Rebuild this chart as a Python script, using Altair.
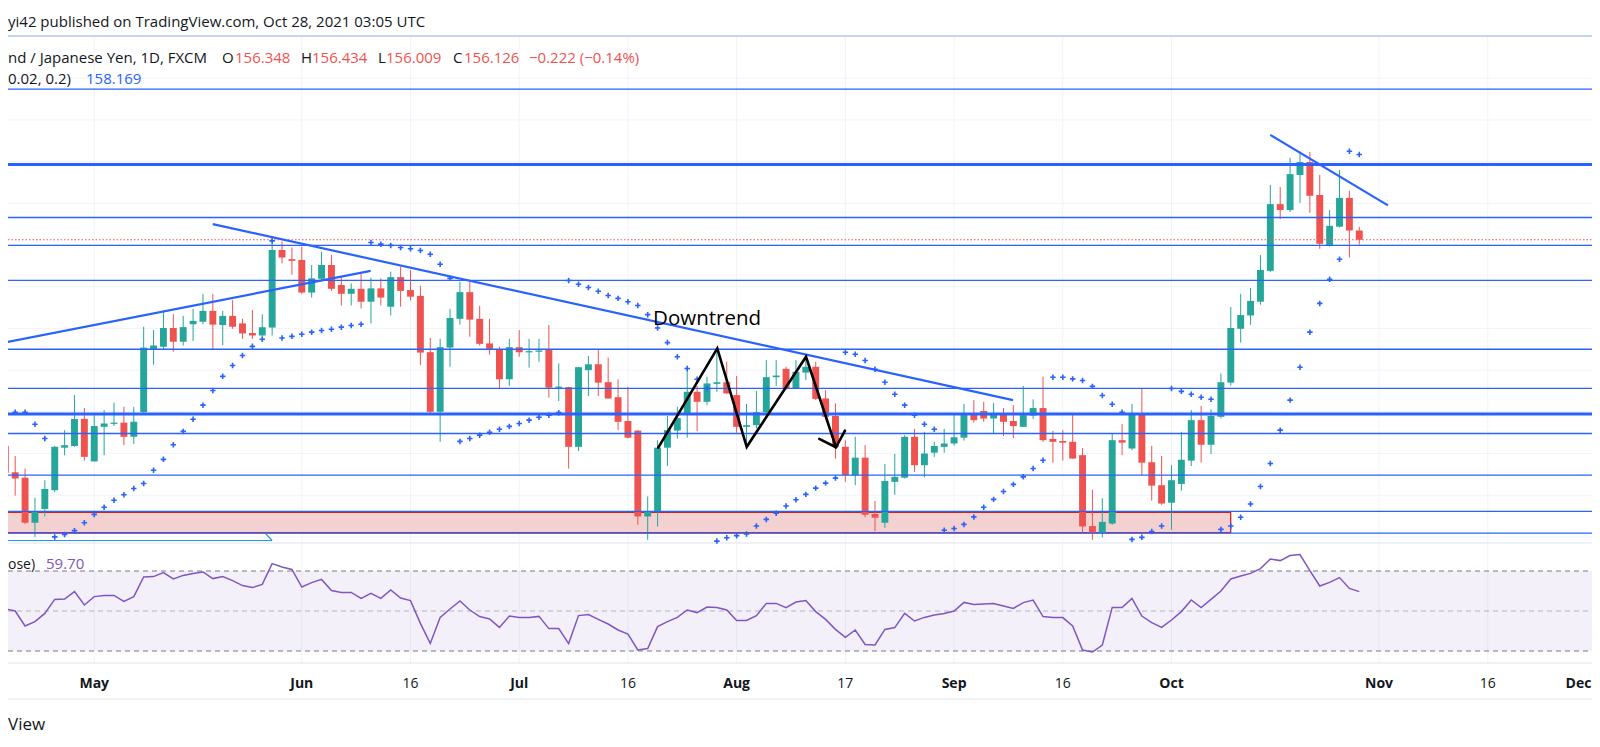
import altair as alt
import numpy as np
import pandas as pd

W, H = 1584, 731
GREEN, RED, BLUE, PURPLE = "#26a69a", "#ef5350", "#2962ff", "#7e57c2"
TEXT, GRID, SEP = "#131722", "#f0f3fa", "#e0e3eb"
FONT = "Open Sans"

# ---------------- data (GBP/JPY daily, FXCM) ----------------
first_bar = "2021-04-20"
opens = [151.18, 150.55, 150.42, 149.34, 149.67, 150.12, 151.14, 151.18, 151.83, 150.81,
         151.64, 151.71, 151.74, 151.40, 151.99, 153.50, 153.56, 154.01, 153.68, 154.10,
         154.16, 154.42, 154.08, 154.30, 154.12, 153.89, 153.83, 154.02, 155.88, 155.66,
         155.64, 154.86, 155.19, 155.52, 155.04, 154.83, 154.95, 154.64, 154.96, 154.52,
         155.23, 154.92, 154.78, 153.43, 152.00, 153.54, 154.23, 154.87, 154.23, 153.64,
         153.49, 152.78, 153.55, 153.43, 153.44, 153.49, 152.58, 152.59, 151.16, 153.00,
         153.14, 152.71, 152.35, 151.78, 151.55, 149.49, 149.61, 151.14, 151.55, 151.96,
         152.48, 152.24, 152.67, 152.71, 152.40, 151.64, 151.68, 151.99, 152.83, 153.03,
         152.56, 152.94, 153.08, 152.32, 151.90, 151.16, 150.48, 150.90, 149.55, 149.34,
         150.32, 150.42, 151.40, 150.72, 151.02, 151.16, 151.24, 151.38, 151.93, 152.02,
         151.84, 151.93, 151.78, 151.64, 151.91, 152.09, 151.35, 151.30, 151.28, 150.96,
         149.26, 149.09, 149.32, 151.32, 151.12, 151.93, 150.79, 150.24, 149.82, 150.27,
         150.83, 151.80, 151.21, 151.88, 152.70, 153.99, 154.31, 154.64, 155.38, 156.98,
         156.84, 157.68, 157.99, 157.20, 155.99, 156.44, 157.13, 156.348]
highs = [151.96, 150.94, 150.64, 149.94, 150.36, 151.18, 151.56, 152.40, 152.09, 151.92,
         152.04, 152.22, 152.12, 152.12, 154.04, 153.96, 154.40, 154.34, 154.30, 154.47,
         154.83, 154.83, 154.42, 154.68, 154.23, 154.44, 154.34, 156.12, 156.08, 155.94,
         155.96, 155.52, 155.84, 155.76, 155.24, 155.08, 155.34, 155.22, 155.20, 155.36,
         155.48, 155.40, 155.02, 153.77, 153.75, 154.47, 155.12, 155.12, 154.54, 154.23,
         153.56, 153.75, 153.96, 153.75, 153.75, 154.08, 153.16, 152.60, 153.07, 153.34,
         153.48, 153.30, 152.78, 152.60, 151.56, 149.97, 151.32, 151.90, 152.12, 153.08,
         152.62, 152.84, 153.44, 153.20, 152.86, 152.19, 152.50, 153.24, 153.24, 153.08,
         153.24, 153.32, 153.20, 152.52, 152.20, 151.32, 151.40, 151.20, 149.86, 150.75,
         150.99, 151.44, 151.59, 151.52, 151.28, 151.59, 151.95, 152.19, 152.28, 152.24,
         152.21, 152.09, 152.16, 152.62, 152.30, 152.84, 151.54, 151.56, 151.93, 151.13,
         150.13, 149.93, 151.47, 151.71, 152.19, 152.55, 151.18, 150.94, 150.72, 151.52,
         152.04, 152.14, 152.06, 152.92, 154.51, 154.83, 154.97, 155.76, 157.44, 157.39,
         158.09, 158.24, 158.23, 157.68, 156.84, 157.80, 157.30, 156.434]
lows = [150.51, 149.99, 149.31, 149.00, 149.49, 150.07, 150.96, 151.16, 150.83, 150.81,
        150.96, 151.66, 151.20, 151.23, 151.96, 153.13, 153.51, 153.44, 153.59, 153.70,
        154.10, 153.51, 153.60, 153.99, 153.75, 153.75, 153.80, 153.83, 155.56, 155.29,
        154.83, 154.74, 155.12, 154.90, 154.55, 154.55, 154.48, 154.12, 154.55, 154.31,
        154.52, 154.67, 153.12, 151.96, 151.28, 153.08, 154.09, 153.80, 153.59, 153.37,
        152.56, 152.62, 153.32, 153.06, 153.20, 152.34, 152.26, 150.64, 151.06, 152.38,
        152.38, 152.31, 151.56, 151.36, 149.29, 148.93, 149.25, 150.70, 151.36, 151.38,
        151.54, 152.16, 152.48, 152.43, 151.50, 151.16, 151.60, 151.96, 152.62, 152.52,
        152.56, 152.76, 152.28, 151.82, 150.88, 150.32, 150.24, 149.47, 149.14, 149.22,
        150.01, 150.40, 150.56, 150.43, 150.92, 151.02, 151.19, 151.31, 151.74, 151.76,
        151.49, 151.42, 151.37, 151.64, 151.83, 151.28, 150.78, 150.83, 150.87, 149.10,
        148.93, 148.99, 149.29, 150.96, 151.08, 150.48, 149.87, 149.77, 149.17, 150.11,
        150.70, 150.78, 150.99, 151.84, 152.63, 153.66, 154.09, 154.57, 155.35, 156.62,
        156.79, 157.01, 156.77, 155.91, 155.96, 156.42, 155.70, 156.009]
closes = [150.54, 150.40, 149.34, 149.61, 150.15, 151.16, 151.20, 151.83, 150.92, 151.66,
          151.72, 151.74, 151.40, 151.76, 153.54, 153.59, 154.01, 153.68, 154.03, 154.18,
          154.42, 154.09, 154.30, 154.04, 153.88, 153.83, 154.03, 155.88, 155.70, 155.62,
          154.86, 155.20, 155.52, 154.95, 154.83, 154.95, 154.64, 154.96, 154.74, 155.23,
          154.90, 154.76, 153.42, 152.00, 153.55, 154.25, 154.87, 154.21, 153.63, 153.51,
          152.78, 153.55, 153.43, 153.45, 153.47, 152.58, 152.60, 151.16, 153.07, 153.14,
          152.70, 152.32, 151.76, 151.38, 149.49, 149.62, 151.14, 151.56, 151.85, 152.48,
          152.24, 152.68, 152.71, 152.44, 151.64, 151.68, 151.99, 152.83, 152.87, 152.56,
          152.96, 153.08, 152.31, 151.88, 151.16, 150.48, 150.90, 149.53, 149.46, 150.34,
          150.44, 151.40, 150.72, 151.00, 151.18, 151.24, 151.39, 151.93, 151.80, 151.84,
          151.93, 151.76, 151.66, 151.92, 152.09, 151.32, 151.28, 151.26, 150.88, 149.25,
          149.09, 149.36, 151.32, 151.26, 151.93, 150.78, 150.23, 149.80, 150.36, 150.85,
          151.80, 151.21, 151.90, 152.71, 154.01, 154.32, 154.66, 155.40, 156.98, 156.84,
          157.70, 157.99, 157.18, 156.03, 156.46, 157.13, 156.348, 156.126]
psar = [152.01, 151.99, 151.99, 151.70, 151.36, 149.00, 149.06, 149.15, 149.34, 149.54,
        149.71, 149.88, 150.01, 150.16, 150.28, 150.60, 150.86, 151.21, 151.53, 151.82,
        152.16, 152.51, 152.85, 153.11, 153.35, 153.57, 153.74, 156.10, 153.77, 153.81,
        153.86, 153.91, 153.95, 153.98, 154.03, 154.07, 154.10, 156.06, 156.02, 155.99,
        155.94, 155.91, 155.87, 155.78, 155.54, 155.20, 151.29, 151.36, 151.44, 151.51,
        151.58, 151.65, 151.72, 151.80, 151.87, 151.92, 151.98, 155.15, 155.06, 154.98,
        154.89, 154.79, 154.72, 154.64, 154.55, 154.33, 154.01, 153.66, 153.32, 153.04,
        152.78, 152.56, 148.90, 148.98, 149.03, 149.07, 149.26, 149.42, 149.57, 149.74,
        149.89, 150.02, 150.17, 150.29, 150.41, 153.43, 153.38, 153.23, 153.02, 152.71,
        152.42, 152.16, 151.92, 151.70, 151.58, 149.16, 149.20, 149.30, 149.48, 149.71,
        149.90, 150.09, 150.26, 150.44, 150.64, 150.84, 152.83, 152.83, 152.79, 152.75,
        152.61, 152.39, 152.18, 151.99, 148.94, 148.99, 149.13, 149.26, 152.56, 152.49,
        152.42, 152.35, 152.30, 149.18, 149.26, 149.47, 149.79, 150.21, 150.76, 151.56,
        152.28, 153.07, 153.91, 154.60, 155.18, 155.66, 158.25, 158.169]
rsi = [51.0, 50.0, 42.5, 44.7, 48.8, 55.8, 56.0, 59.7, 53.0, 57.2,
       57.7, 57.8, 54.8, 57.2, 67.0, 67.2, 69.2, 66.0, 67.8, 68.7,
       69.5, 66.2, 67.2, 65.2, 62.7, 61.7, 63.3, 73.7, 72.0, 70.8,
       62.0, 64.2, 65.8, 60.2, 59.2, 59.3, 56.3, 58.8, 56.3, 60.5,
       56.5, 55.2, 43.8, 33.8, 46.8, 51.0, 55.0, 50.5, 47.2, 46.0,
       41.8, 47.5, 46.7, 46.8, 47.3, 41.2, 41.2, 33.7, 47.7, 48.2,
       45.8, 43.5, 40.5, 38.5, 30.5, 31.2, 42.2, 44.7, 46.8, 50.5,
       49.2, 52.0, 51.8, 50.5, 45.2, 45.3, 47.7, 53.8, 53.8, 51.7,
       54.5, 55.2, 49.7, 45.8, 40.8, 36.8, 40.5, 33.3, 33.0, 40.8,
       41.7, 48.8, 45.0, 46.8, 48.0, 48.7, 50.0, 54.3, 53.3, 53.5,
       53.8, 52.5, 51.3, 54.2, 55.5, 47.2, 46.8, 46.7, 42.5, 30.5,
       29.5, 33.0, 51.8, 51.7, 56.3, 47.5, 44.2, 41.8, 45.5, 49.7,
       55.5, 51.7, 55.8, 60.0, 66.0, 67.5, 68.8, 71.2, 76.0, 75.2,
       77.7, 78.2, 70.2, 62.5, 64.3, 66.7, 61.3, 59.70]

tick_dates = ["2021-05-03", "2021-06-01", "2021-06-16", "2021-07-01", "2021-07-16",
              "2021-08-02", "2021-08-17", "2021-09-01", "2021-09-16", "2021-10-01",
              "2021-11-01", "2021-11-16", "2021-12-01"]
tick_labels = ["May", "Jun", "16", "Jul", "16", "Aug", "17", "Sep", "16", "Oct",
               "Nov", "16", "Dec"]

level_prices = [159.74, 157.93, 156.66, 155.99, 155.15, 153.50, 152.56, 151.95,
                151.48, 150.48, 149.61, 149.09]
level_bold = [157.93, 151.95]
grid_prices = [149, 150, 151, 152, 153, 154, 155, 156, 157, 158, 159, 160]

# drawings, in (bar number, price)
zone_bars = [-9.26, 114.99]
zone_prices = [149.10, 149.59]
trend_ids = ["t1", "t1", "t2", "t2", "t3", "t3"]
trend_bars = [-9.54, 27.97, 11.99, 92.96, 119.0, 130.9]
trend_prices = [153.64, 155.38, 156.50, 152.28, 158.64, 156.95]
zig_ids = ["z", "z", "z", "z", "z", "a1", "a1", "a2", "a2"]
zig_bars = [57.07, 63.04, 66.02, 72.02, 75.05, 73.36, 75.05, 75.05, 75.96]
zig_prices = [151.14, 153.52, 151.16, 153.32, 151.15, 151.35, 151.15, 151.15, 151.55]
range_ids = ["r1", "r1", "r2", "r2"]
range_bars = [-9.6, 17.99, 17.28, 17.99]
range_prices = [148.914, 148.914, 149.09, 148.914]
note_bar, note_price, note_text = 56.54, 154.08, "Downtrend"

# ---------------- frames ----------------
dates = pd.bdate_range(first_bar, periods=len(opens))
origin = len(pd.bdate_range(first_bar, "2021-05-03")) - 1
df = pd.DataFrame({"i": np.arange(len(opens)) - origin, "date": dates.strftime("%Y-%m-%d"),
                   "o": opens, "h": highs, "l": lows, "c": closes, "sar": psar, "rsi": rsi})
df["dir"] = np.where(df["c"] >= df["o"], "up", "down")
top = np.maximum(df["o"], df["c"])
bot = np.minimum(df["o"], df["c"])
mid = (top + bot) / 2
thin = (top - bot) < 0.03
df["top"] = np.where(thin, mid + 0.015, top)
df["bot"] = np.where(thin, mid - 0.015, bot)
df["xl"] = df["i"] - 0.35
df["xr"] = df["i"] + 0.35

ticks = pd.DataFrame({
    "i": [len(pd.bdate_range("2021-05-03", d)) - 1 for d in tick_dates],
    "label": tick_labels})
ticks["month"] = ticks["label"].str.isalpha()
ticks_in = ticks.iloc[:-1]
ticks_edge = ticks.iloc[-1:]

x_scale = alt.Scale(domain=[-8.727, 151.548], range=[0, W], nice=False, zero=False)
y_main = alt.Scale(domain=[148.854, 161.012], range=[535, 28], nice=False, zero=False)
y_rsi = alt.Scale(domain=[24, 84], range=[655, 535], nice=False, zero=False)


def X(f):
    return alt.X(f"{f}:Q", scale=x_scale, axis=None)


def Y(f, s=y_main):
    return alt.Y(f"{f}:Q", scale=s, axis=None)


def label(text, x, y, color=TEXT, size=15, align="left", weight="normal"):
    return alt.Chart(pd.DataFrame({"t": [text]})).mark_text(
        align=align, baseline="alphabetic", color=color, fontSize=size,
        fontWeight=weight, font=FONT).encode(text="t:N", x=alt.value(x), y=alt.value(y))


layers = []
# grid
layers.append(alt.Chart(pd.DataFrame({"p": grid_prices})).mark_rule(color=GRID, strokeWidth=1)
              .encode(y=Y("p"), x=alt.value(0), x2=alt.value(W)))
layers.append(alt.Chart(ticks).mark_rule(color=GRID, strokeWidth=1)
              .encode(x=X("i"), y=alt.value(28), y2=alt.value(655)))
# pane separators
for yy in (535, 655, 691):
    layers.append(alt.Chart(pd.DataFrame({"k": [0]})).mark_rule(color=SEP, strokeWidth=1)
                  .encode(x=alt.value(0), x2=alt.value(W), y=alt.value(yy)))
layers.append(alt.Chart(pd.DataFrame({"k": [0]})).mark_rule(color="#8aacf3", strokeWidth=1.2)
              .encode(x=alt.value(0), x2=alt.value(W), y=alt.value(28)))

# RSI band and levels
layers.append(alt.Chart(pd.DataFrame({"lo": [30], "hi": [70]})).mark_rect(color=PURPLE, opacity=0.09)
              .encode(y=Y("hi", y_rsi), y2="lo", x=alt.value(0), x2=alt.value(W)))
layers.append(alt.Chart(pd.DataFrame({"v": [70, 30]})).mark_rule(color="#787b86", strokeDash=[5, 4], strokeWidth=1)
              .encode(y=Y("v", y_rsi), x=alt.value(0), x2=alt.value(W)))
layers.append(alt.Chart(pd.DataFrame({"v": [50]})).mark_rule(color="#787b86", opacity=0.5, strokeDash=[5, 4], strokeWidth=1)
              .encode(y=Y("v", y_rsi), x=alt.value(0), x2=alt.value(W)))

# support zone
layers.append(alt.Chart(pd.DataFrame({"x0": [zone_bars[0]], "x1": [zone_bars[1]],
                                      "p0": [zone_prices[0]], "p1": [zone_prices[1]]}))
              .mark_rect(fill="#f3d1d1", stroke="#c62828", strokeWidth=1.3, clip=True)
              .encode(x=X("x0"), x2="x1", y=Y("p0"), y2="p1"))

# candles
color = alt.Color("dir:N", scale=alt.Scale(domain=["up", "down"], range=[GREEN, RED]), legend=None)
layers.append(alt.Chart(df).mark_rule(strokeWidth=1, clip=True)
              .encode(x=X("i"), y=Y("l"), y2="h", color=color))
layers.append(alt.Chart(df).mark_rect(clip=True)
              .encode(x=X("xl"), x2="xr", y=Y("bot"), y2="top", color=color))

# horizontal levels
thin_levels = [p for p in level_prices if p not in level_bold]
layers.append(alt.Chart(pd.DataFrame({"p": thin_levels})).mark_rule(color=BLUE, strokeWidth=1.3)
              .encode(y=Y("p"), x=alt.value(0), x2=alt.value(W)))
layers.append(alt.Chart(pd.DataFrame({"p": level_bold})).mark_rule(color=BLUE, strokeWidth=3)
              .encode(y=Y("p"), x=alt.value(0), x2=alt.value(W)))
# last price
layers.append(alt.Chart(df.tail(1)).mark_rule(color=RED, strokeWidth=1, strokeDash=[1.5, 2])
              .encode(y=Y("c"), x=alt.value(0), x2=alt.value(W)))

# parabolic SAR
layers.append(alt.Chart(df).mark_point(shape="M-1,0L1,0M0,-1L0,1", filled=False, stroke=BLUE,
                                       strokeWidth=1.6, size=30, opacity=1, clip=True)
              .encode(x=X("i"), y=Y("sar")))

# RSI
layers.append(alt.Chart(df).mark_line(color=PURPLE, strokeWidth=1.5, clip=True)
              .encode(x=X("i"), y=Y("rsi", y_rsi)))

# trend lines
layers.append(alt.Chart(pd.DataFrame({"id": trend_ids, "i": trend_bars, "p": trend_prices}))
              .mark_line(color=BLUE, strokeWidth=2.2, clip=True)
              .encode(x=X("i"), y=Y("p"), detail="id:N"))
layers.append(alt.Chart(pd.DataFrame({"id": range_ids, "i": range_bars, "p": range_prices}))
              .mark_line(color="#2196f3", strokeWidth=1.2, clip=True)
              .encode(x=X("i"), y=Y("p"), detail="id:N"))
layers.append(alt.Chart(pd.DataFrame({"id": zig_ids, "i": zig_bars, "p": zig_prices}))
              .mark_line(color="#000000", strokeWidth=2.6, strokeCap="round", strokeJoin="miter", clip=True)
              .encode(x=X("i"), y=Y("p"), detail="id:N"))
layers.append(alt.Chart(pd.DataFrame({"i": [note_bar], "p": [note_price], "t": [note_text]}))
              .mark_text(align="left", baseline="alphabetic", fontSize=20.5, font=FONT, color="#000000")
              .encode(x=X("i"), y=Y("p"), text="t:N"))

# time axis labels
layers.append(alt.Chart(ticks_in[ticks_in["month"]]).mark_text(baseline="alphabetic", fontSize=14, font=FONT,
                                                                fontWeight="bold", color=TEXT)
              .encode(x=X("i"), y=alt.value(680), text="label:N"))
layers.append(alt.Chart(ticks_in[~ticks_in["month"]]).mark_text(baseline="alphabetic", fontSize=14, font=FONT,
                                                                 color=TEXT)
              .encode(x=X("i"), y=alt.value(680), text="label:N"))
# last tick sits on the right edge: keep it fully inside
layers.append(alt.Chart(ticks_edge).mark_text(baseline="alphabetic", align="right", dx=-5, fontSize=14,
                                              font=FONT, fontWeight="bold", color=TEXT)
              .encode(x=X("i"), y=alt.value(680), text="label:N"))

# header / legends
last = df.iloc[-1]
prev_close = df.iloc[-2]["c"]
chg = last["c"] - prev_close
pct = chg / prev_close * 100
fmt = lambda v: f"{v:.3f}".replace("-", "\u2212")
layers += [
    label("yi42 published on TradingView.com, Oct 28, 2021 03:05 UTC", 0, 19),
    label("nd / Japanese Yen, 1D, FXCM", 0, 55),
    label("O", 214, 55), label(fmt(last["o"]), 227, 55, color=RED),
    label("H", 293, 55), label(fmt(last["h"]), 304, 55, color=RED),
    label("L", 370, 55), label(fmt(last["l"]), 378, 55, color=RED),
    label("C", 445, 55), label(fmt(last["c"]), 456, 55, color=RED),
    label(f"{fmt(chg)} ({pct:.2f}%)".replace("-", "\u2212"), 521, 55, color=RED),
    label("0.02, 0.2)", 0, 76),
    label(f"{last['sar']:.3f}", 78, 76, color=BLUE),
    label("ose)", 0, 561, size=14),
    label(f"{last['rsi']:.2f}", 38, 561, color=PURPLE),
    label("View", 0, 722, size=17),
]

chart = (alt.layer(*layers)
         .resolve_scale(y="independent")
         .properties(width=W, height=H, padding=0, autosize=alt.AutoSizeParams(type="none"),
                     background="#ffffff")
         .configure_view(stroke=None))

chart.save("out.html", embed_options={"renderer": "svg", "actions": False})
